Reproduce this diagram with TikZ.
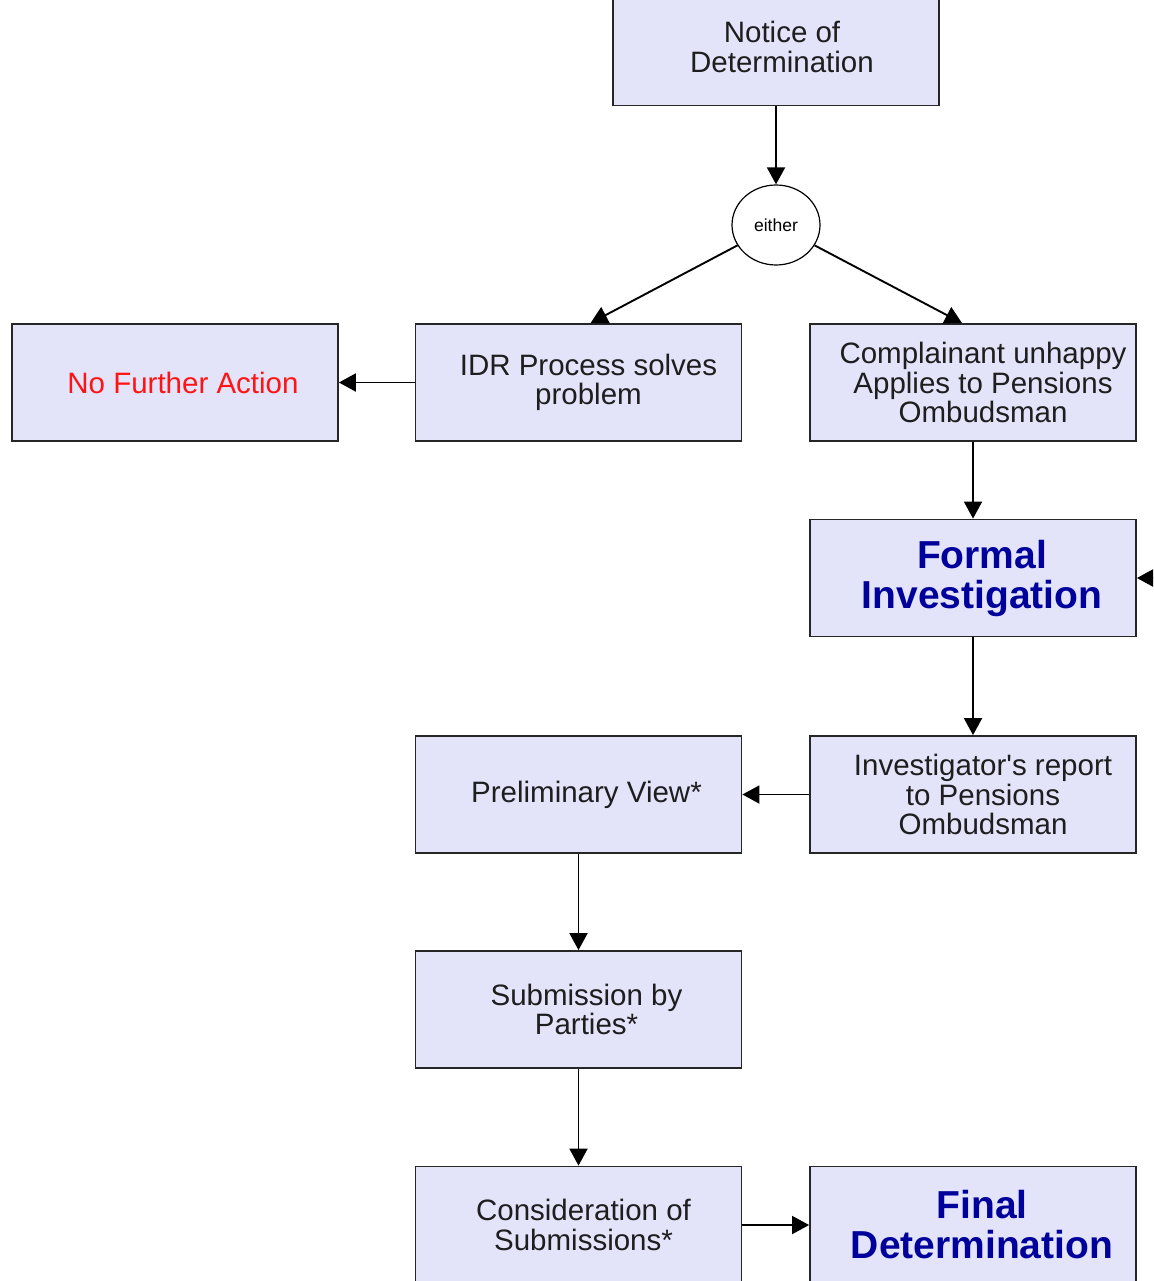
\documentclass[tikz,border=0pt]{standalone}
\usepackage{fontspec}
\setmainfont{Liberation Sans}
\usetikzlibrary{arrows.meta,shapes.geometric}
\definecolor{boxfill}{RGB}{227,228,250}
\definecolor{boxtext}{RGB}{30,30,30}
\definecolor{titleblue}{RGB}{0,0,155}
\definecolor{redtext}{RGB}{255,20,20}
\tikzset{
  stepbox/.style={draw=black!85, line width=1.8pt, fill=boxfill, minimum width=326pt, minimum height=117pt, inner sep=0pt},
  txt/.style={align=center, text=boxtext, font=\fontsize{29.5}{29.5}\selectfont, inner sep=0pt, xshift=8pt},
  ttl/.style={txt, text=titleblue, font=\fontsize{39}{40}\selectfont\bfseries, xshift=1pt},
  arr/.style={line width=1.9pt, -{Triangle[length=17pt,width=18pt]}},
  choice/.style={draw, ellipse, line width=1.2pt, fill=white, minimum width=88pt, minimum height=80pt,
    inner sep=0pt, font=\fontsize{17.5}{18}\selectfont}
}
\begin{document}
\begin{tikzpicture}[x=1pt,y=-1pt]
\useasboundingbox[clip] (0,0) rectangle (1153,1281);
\fill[white] (0,0) rectangle (1153,1281);

\node[stepbox, label={[txt, xshift=-2pt]center:Notice of\\Determination}] (notice) at (776,47) {};
\node[choice] (either) at (776,225) {either};
\node[stepbox, label={[txt, text=redtext]center:No Further Action}] (nfa) at (175,382.5) {};
\node[stepbox, label={[txt, xshift=2pt]center:IDR Process solves\\problem}] (idr) at (578.5,382.5) {};
\node[stepbox, label={[txt, xshift=2pt]center:Complainant unhappy\\Applies to Pensions\\Ombudsman}] (comp) at (973,382.5) {};
\node[stepbox, label={[ttl]center:Formal\\Investigation}] (formal) at (973,578) {};
\node[stepbox, label={[txt, xshift=2pt]center:Investigator\textquotesingle s report\\to Pensions\\Ombudsman}] (inv) at (973,794.5) {};
\node[stepbox, label={[txt]center:Preliminary View*}] (prelim) at (578.5,794.5) {};
\node[stepbox, label={[txt]center:Submission by\\Parties*}] (subm) at (578.5,1009.5) {};
\node[stepbox, label={[txt, xshift=-3pt]center:Consideration of\\Submissions*}] (cons) at (578.5,1225) {};
\node[stepbox, label={[ttl]center:Final\\Determination}] (final) at (973,1225) {};
\coordinate (offright) at (1185,578);

\draw[arr] (notice) -- (either);
\draw[arr] (either) -- ([xshift=12pt]idr.north);
\draw[arr] (either) -- ([xshift=-11pt]comp.north);
\draw[arr] (idr) -- (nfa);
\draw[arr] (comp) -- (formal);
\draw[arr] (offright) -- (formal);
\draw[arr] (formal) -- (inv);
\draw[arr] (inv) -- (prelim);
\draw[arr] (prelim) -- (subm);
\draw[arr] (subm) -- (cons);
\draw[arr] (cons) -- (final);
\end{tikzpicture}
\end{document}
